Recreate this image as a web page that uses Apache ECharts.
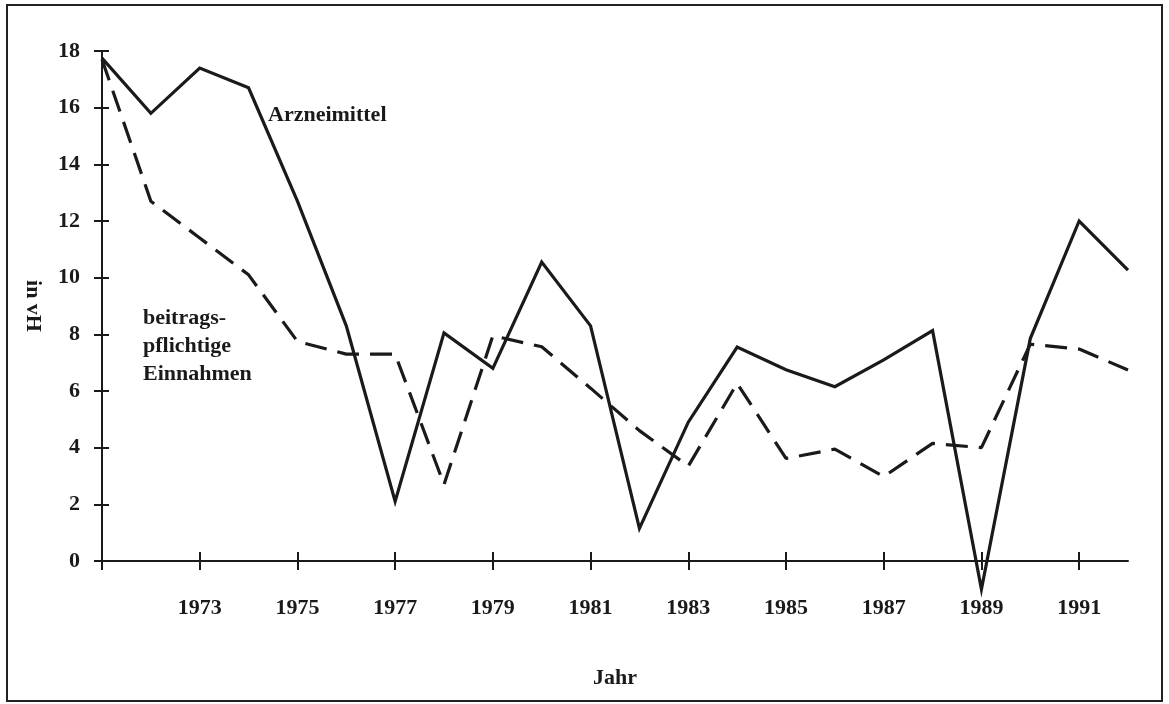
<!DOCTYPE html>
<html>
<head>
<meta charset="utf-8">
<script src="https://cdn.jsdelivr.net/npm/echarts@6/dist/echarts.min.js"></script>
<style>
  html, body { margin: 0; padding: 0; background: #fff; }
  #frame { position: absolute; left: 6px; top: 4px; width: 1153px; height: 694px; border: 2px solid #222; }
  #chart { position: absolute; left: 0; top: 0; width: 1169px; height: 704px; }
</style>
</head>
<body>
<div id="frame"></div>
<div id="chart"></div>
<script>
// Jahre (Kategorien)
const years = ['1971', '1972', '1973', '1974', '1975', '1976', '1977', '1978', '1979', '1980', '1981',
  '1982', '1983', '1984', '1985', '1986', '1987', '1988', '1989', '1990', '1991', '1992'];
// Veränderung in vH
const arzneimittel = [17.75, 15.8, 17.4, 16.7, 12.7, 8.3, 2.1, 8.05, 6.8, 10.55, 8.3,
  1.15, 4.9, 7.55, 6.75, 6.15, 7.1, 8.13, -1.0, 7.85, 12.0, 10.27];
const einnahmen = [17.7, 12.7, 11.4, 10.1, 7.75, 7.3, 7.3, 2.7, 7.95, 7.56, 6.1,
  4.6, 3.35, 6.27, 3.62, 3.95, 2.98, 4.15, 4.0, 7.65, 7.48, 6.74];

const FONT = 'Liberation Serif';
const INK = '#1a1a1a';
const FS = 22;

const chart = echarts.init(document.getElementById('chart'));

const tickEvery2 = (i) => i % 2 === 0;

const option = {
  animation: false,
  grid: { left: 102, right: 41, top: 51, bottom: 143 },
  textStyle: { fontFamily: FONT },
  xAxis: [{
    type: 'category',
    data: years,
    boundaryGap: false,
    name: 'Jahr',
    nameLocation: 'middle',
    nameGap: 106,
    nameTextStyle: { color: INK, fontSize: FS, fontWeight: 'bold', fontFamily: FONT },
    axisLine: { lineStyle: { color: INK, width: 2 } },
    axisTick: { interval: tickEvery2, length: 9, lineStyle: { color: INK, width: 2 } },
    axisLabel: {
      interval: (i) => i % 2 === 0 && i > 0,
      margin: 36,
      color: INK, fontSize: FS, fontWeight: 'bold', fontFamily: FONT
    },
    splitLine: { show: false }
  }, {
    type: 'category',
    data: years,
    boundaryGap: false,
    position: 'bottom',
    axisLine: { show: false },
    axisTick: { inside: true, interval: tickEvery2, length: 9, lineStyle: { color: INK, width: 2 } },
    axisLabel: { show: false },
    splitLine: { show: false }
  }],
  yAxis: [{
    type: 'value',
    min: 0,
    max: 18,
    interval: 2,
    name: 'in vH',
    nameLocation: 'middle',
    nameRotate: -90,
    nameGap: 58,
    nameTextStyle: { color: INK, fontSize: FS, fontWeight: 'bold', fontFamily: FONT },
    axisLine: { show: true, lineStyle: { color: INK, width: 2 } },
    axisTick: { show: true, length: 8, lineStyle: { color: INK, width: 2 } },
    axisLabel: { margin: 22, color: INK, fontSize: FS, fontWeight: 'bold', fontFamily: FONT },
    splitLine: { show: false }
  }, {
    type: 'value',
    min: 0,
    max: 18,
    interval: 2,
    position: 'left',
    axisLine: { show: false },
    axisTick: { show: true, inside: true, length: 7, lineStyle: { color: INK, width: 2 } },
    axisLabel: { show: false },
    splitLine: { show: false }
  }],
  series: [{
    name: 'Arzneimittel',
    type: 'line',
    data: arzneimittel,
    clip: false,
    showSymbol: false,
    lineStyle: { color: INK, width: 3.2, join: 'miter' }
  }, {
    name: 'beitragspflichtige Einnahmen',
    type: 'line',
    data: einnahmen,
    clip: false,
    showSymbol: false,
    lineStyle: { color: INK, width: 3.2, type: [22, 11] }
  }],
  graphic: [{
    type: 'text',
    left: 268, top: 104,
    style: { text: 'Arzneimittel', fill: INK, font: 'bold 22px "Liberation Serif"' }
  }, {
    type: 'text',
    left: 143, top: 304,
    style: {
      text: 'beitrags-\npflichtige\nEinnahmen',
      fill: INK, font: 'bold 22px "Liberation Serif"', lineHeight: 28
    }
  }]
};

chart.setOption(option);
</script>
</body>
</html>
